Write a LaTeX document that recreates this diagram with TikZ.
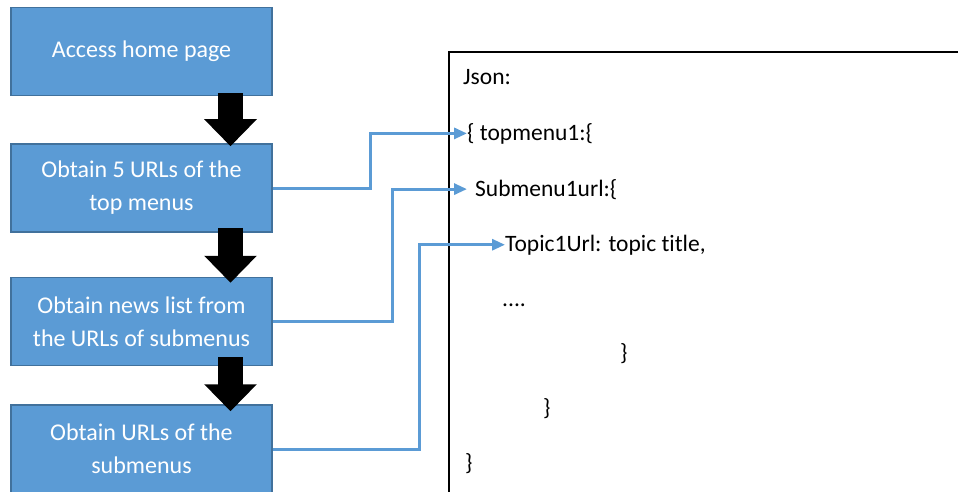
\documentclass[tikz,border=0pt]{standalone}
\usepackage{fontspec}
\setmainfont[Ligatures=NoCommon]{Carlito}
\usetikzlibrary{arrows.meta,calc}
\definecolor{stepblue}{HTML}{5B9BD5}
\definecolor{stepedge}{HTML}{41719C}
\begin{document}
\begin{tikzpicture}[x=1pt,y=-1pt,
  stepbox/.style={draw=stepedge,line width=1.5pt,fill=stepblue,text=white,
    minimum width=261pt,minimum height=88pt,inner sep=2pt,align=center,
    font=\fontsize{24}{33}\selectfont},
  bigarrow/.style={line width=25pt,black,
    -{Triangle[width=51pt,length=27pt]}},
  link/.style={draw=stepblue,line width=3pt,
    -{Triangle[width=11pt,length=13pt]}},
  jsontext/.style={anchor=base west,inner sep=0pt,
    font=\fontsize{23.5}{28}\selectfont}]
\useasboundingbox (0,0) rectangle (958,492);
\clip (0,0) rectangle (958,492);

% process steps
\node[stepbox] (b1) at (141.5,51.5) {Access home page};
\node[stepbox] (b2) at (141.5,188) {Obtain 5 URLs of the\\top menus};
\node[stepbox] (b3) at (141.5,321.5) {Obtain news list from\\the URLs of submenus};
\node[stepbox] (b4) at (141.5,449) {Obtain URLs of the\\submenus};

% block arrows between the steps
\draw[bigarrow] ($(b1.south)+(89,-3)$) -- ($(b2.north)+(89,3)$);
\draw[bigarrow] ($(b2.south)+(89,-5)$) -- ($(b3.north)+(89,6)$);
\draw[bigarrow] ($(b3.south)+(89,-9)$) -- ($(b4.north)+(89,7)$);

% JSON panel
\draw[line width=2pt] (449,520) -- (449,52) -- (990,52);
\node[jsontext] (j0) at (463,85) {Json:};
\node[jsontext] (j1) at (467,140) {\{ topmenu1:\{};
\node[jsontext] (j2) at (475,196) {Submenu1url:\{};
\node[jsontext] (j3) at (505,251) {Topic1Url: topic title,};
\node[jsontext] (j4) at (502,306) {....};
\node[jsontext] (j5) at (620,360) {\}};
\node[jsontext] (j6) at (543,415) {\}};
\node[jsontext] (j7) at (465,470) {\}};

% links from the steps to the JSON keys
\draw[link] (b2.east) -- ++(98,0) |- (j1.west);
\draw[link] (b3.east) -- ++(120,0) |- ($(j2.west)+(-8,0)$);
\draw[link] (b4.east) -- ++(147,0) |- (j3.west);
\end{tikzpicture}
\end{document}
